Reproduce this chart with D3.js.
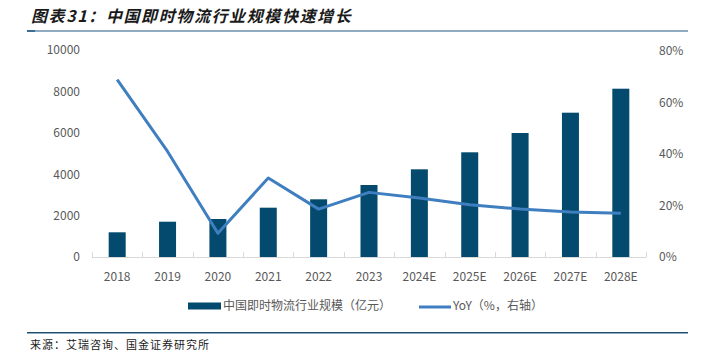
<!DOCTYPE html>
<html><head><meta charset="utf-8">
<script src="https://cdn.jsdelivr.net/npm/d3@7"></script>
<style>body{margin:0;background:#fff;} svg{display:block;}</style>
</head><body>
<script>
const categories = ["2018","2019","2020","2021","2022","2023","2024E","2025E","2026E","2027E","2028E"];
const scaleValues = [1193,1705,1836,2382,2787,3478,4236,5058,5990,6971,8130];
const yoyValues = [68.9,41.0,9.2,30.7,18.6,25.1,22.9,20.3,18.6,17.5,17.0];
const leftTicks = [0,2000,4000,6000,8000,10000];
const rightTicks = [0,20,40,60,80];
const titleText = "图表31：中国即时物流行业规模快速增长";
const sourceText = "来源：艾瑞咨询、国金证券研究所";
const barLabel = "中国即时物流行业规模（亿元）";
const lineLabel = "YoY（%，右轴）";

const W=708,H=360;
const svg=d3.select("body").append("svg").attr("width",W).attr("height",H);
const font="'Noto Sans CJK SC','Noto Sans',sans-serif";
const barColor="#034a6e", lineColor="#3f7fc0", tickColor="#595959";

// title
svg.append("text").attr("x",31).attr("y",22).text(titleText)
  .attr("font-family",font).attr("font-size",16).attr("font-weight","bold")
  .attr("font-style","italic").attr("fill","#1a1a1a").attr("letter-spacing",1.6);
svg.append("rect").attr("x",27).attr("y",30).attr("width",661).attr("height",2).attr("fill","#8eabc2");
svg.append("rect").attr("x",27).attr("y",30).attr("width",8).attr("height",2).attr("fill","#3c6e94");

const x=d3.scaleBand().domain(categories).range([92,646]);
const yL=d3.scaleLinear().domain([0,10000]).range([257,50]);
const yR=d3.scaleLinear().domain([0,80]).range([257,51]);

// left axis labels
const gL=svg.append("g").attr("transform","translate(80,0)")
  .call(d3.axisLeft(yL).tickValues(leftTicks).tickSize(0).tickPadding(0).tickFormat(d3.format("d")));
gL.select(".domain").remove();
gL.selectAll("text").attr("font-family",font).attr("font-size",12).attr("fill",tickColor);

const gR=svg.append("g").attr("transform","translate(659,0)")
  .call(d3.axisRight(yR).tickValues(rightTicks).tickSize(0).tickPadding(0).tickFormat(d=>d+"%"));
gR.select(".domain").remove();
gR.selectAll("text").attr("font-family",font).attr("font-size",12).attr("fill",tickColor);

// bars
const bw=17;
svg.append("g").selectAll("rect").data(categories).join("rect")
  .attr("x",(d)=>x(d)+x.bandwidth()/2-bw/2)
  .attr("y",(d,i)=>yL(scaleValues[i]))
  .attr("width",bw)
  .attr("height",(d,i)=>yL(0)-yL(scaleValues[i]))
  .attr("fill",barColor);

// x axis
const gX=svg.append("g").attr("transform","translate(0,257)")
  .call(d3.axisBottom(x).tickSize(0).tickPadding(15));
gX.select(".domain").attr("stroke","#d9d9d9").attr("d","M92,0.5H646");
gX.selectAll("text").attr("font-family",font).attr("font-size",12).attr("fill",tickColor);
const bounds=categories.map(c=>x(c)).concat([x.range()[1]]);
svg.append("g").selectAll("line").data(bounds).join("line")
  .attr("x1",d=>Math.round(d)+0.5).attr("x2",d=>Math.round(d)+0.5)
  .attr("y1",252).attr("y2",257.5).attr("stroke","#d9d9d9");

// line
const line=d3.line().x((d,i)=>x(categories[i])+x.bandwidth()/2).y(d=>yR(d));
svg.append("path").datum(yoyValues).attr("d",line).attr("fill","none")
  .attr("stroke",lineColor).attr("stroke-width",3).attr("stroke-linejoin","round");

// legend
svg.append("rect").attr("x",188).attr("y",302.5).attr("width",33).attr("height",7).attr("fill",barColor);
svg.append("text").attr("x",223).attr("y",310).text(barLabel)
  .attr("font-family",font).attr("font-size",12).attr("fill",tickColor);
svg.append("line").attr("x1",419).attr("x2",451).attr("y1",307).attr("y2",307)
  .attr("stroke",lineColor).attr("stroke-width",3);
svg.append("text").attr("x",453).attr("y",310).text(lineLabel)
  .attr("font-family",font).attr("font-size",12).attr("fill",tickColor);

// bottom line & source
svg.append("rect").attr("x",27).attr("y",332).attr("width",661).attr("height",1).attr("fill","#1f4e6e");
svg.append("rect").attr("x",27).attr("y",333).attr("width",661).attr("height",1).attr("fill","#8eabc2");
svg.append("text").attr("x",30).attr("y",349).text(sourceText)
  .attr("font-family",font).attr("font-size",11).attr("fill","#1a1a1a").attr("letter-spacing",1);
</script>
</body></html>
